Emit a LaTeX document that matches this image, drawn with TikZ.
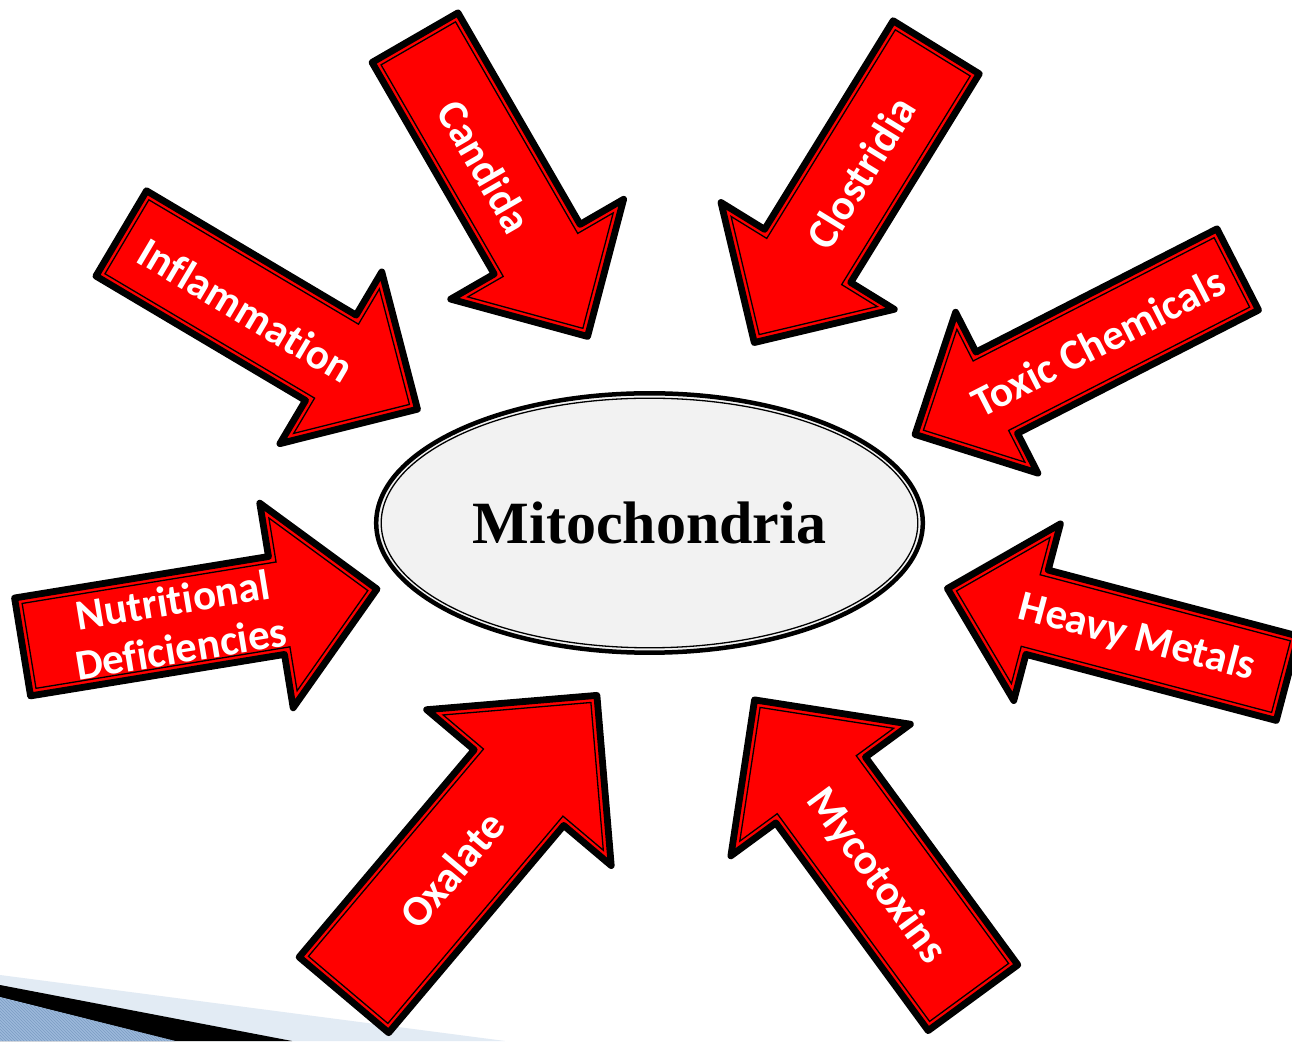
\documentclass[tikz,border=0pt]{standalone}
\usepackage{fontspec}
\setmainfont{Carlito}[Ligatures={NoCommon,NoContextual}]
\newfontfamily\mitofont{Liberation Serif}
\usetikzlibrary{shapes.geometric,patterns}
\definecolor{arrred}{HTML}{FF0000}
\definecolor{ellfill}{HTML}{F2F2F2}
\definecolor{bandlight}{HTML}{E2EBF4}
\definecolor{bandblue}{HTML}{9CB9DA}
\definecolor{bandline}{HTML}{7C9CC4}
\newcommand\nolig{\kern0pt\relax}
\tikzset{
  arrowouter/.style={draw=black, fill=arrred, line width=6.8pt, line join=round},
  arrowinner/.style={draw=black, line width=1.3pt, line join=miter},
  lbl/.style={text=white, font=\fontsize{43}{49}\selectfont\bfseries, inner sep=0pt, align=center},
}
% #1,#2 tail middle (image px), #3,#4 tip (image px), #5 shaft width, #6 head width, #7 head length
\newcommand\RArrow[7]{%
  \pgfmathsetmacro\rAx{#1}%
  \pgfmathsetmacro\rAy{1041-#2}%
  \pgfmathsetmacro\rDx{#3-#1}%
  \pgfmathsetmacro\rDy{#2-#4}%
  \pgfmathsetmacro\rAng{atan2(\rDy,\rDx)}%
  \pgfmathsetmacro\rLen{veclen(\rDx,\rDy)}%
  \pgfmathsetmacro\rSh{#5/2}%
  \pgfmathsetmacro\rHh{#6/2}%
  \pgfmathsetmacro\rHl{#7}%
  \pgfmathsetmacro\rAl{atan(\rHh/\rHl)}%
  \pgfmathsetmacro\oA{3.4}%
  \pgfmathsetmacro\oT{\rLen-3.4/sin(\rAl)}%
  \pgfmathsetmacro\oB{\rLen-\rHl+3.4}%
  \pgfmathsetmacro\oS{\rSh-3.4}%
  \pgfmathsetmacro\oH{\rHh*(\rHl-3.4)/\rHl-3.4/cos(\rAl)}%
  \pgfmathsetmacro\iA{10}%
  \pgfmathsetmacro\iT{\rLen-10/sin(\rAl)}%
  \pgfmathsetmacro\iB{\rLen-\rHl+10}%
  \pgfmathsetmacro\iS{\rSh-10}%
  \pgfmathsetmacro\iH{\rHh*(\rHl-10)/\rHl-10/cos(\rAl)}%
  \begin{scope}[shift={(\rAx,\rAy)},rotate=\rAng]
    \draw[arrowouter] (\oA,-\oS) -- (\oB,-\oS) -- (\oB,-\oH) -- (\oT,0) -- (\oB,\oH) -- (\oB,\oS) -- (\oA,\oS) -- cycle;
    \draw[arrowinner] (\iA,-\iS) -- (\iB,-\iS) -- (\iB,-\iH) -- (\iT,0) -- (\iB,\iH) -- (\iB,\iS) -- (\iA,\iS) -- cycle;
  \end{scope}}
\begin{document}
\begin{tikzpicture}[x=1pt,y=1pt]
\useasboundingbox (0,0) rectangle (1292,1041);
\clip (0,0) rectangle (1292,1041);
\fill[white] (0,0) rectangle (1292,1041);
% bottom-left decorative swoosh
\fill[bandlight] (0,66) -- (505,0) -- (0,0) -- cycle;
\fill[black] (0,56) -- (292,0) -- (0,0) -- cycle;
\fill[bandblue] (0,44) -- (175,0) -- (0,0) -- cycle;
\fill[pattern=north west lines, pattern color=bandline] (0,44) -- (175,0) -- (0,0) -- cycle;
% arrows
\RArrow{413.3}{34.7}{590}{340.7}{106}{216}{109}
\RArrow{938}{44.4}{751.7}{346.7}{108}{220}{110}
\RArrow{118.3}{231.7}{421.7}{411.7}{106}{216}{109}
\RArrow{1240.8}{267.9}{910.7}{436.7}{98}{197}{100}
\RArrow{1290.7}{679.2}{942.7}{587.3}{94}{199}{101}
\RArrow{19.2}{647.5}{381.7}{588.3}{106}{224}{110}
\RArrow{341.7}{997.5}{600}{691.7}{124}{258}{129}
\RArrow{975}{1000.5}{751.7}{696}{118}{239}{120}
% labels
\node[lbl, rotate=-60] (candida) at (485,874) {Candida};
\node[lbl, rotate=58.4] (clostridia) at (861,868) {Clostridia};
\node[lbl, rotate=-30.7] (inflam) at (246,731) {Inf\nolig lammat\nolig ion};
\node[lbl, rotate=27.1] (toxic) at (1098,699) {Toxic Chemicals};
\node[lbl, rotate=-14.8] (heavy) at (1137,403) {Heavy Metals};
\node[lbl, rotate=9.3] (nutri) at (177,417) {Nutrit\nolig ional\\Def\nolig icienc\nolig ies};
\node[lbl, rotate=49.8] (oxalate) at (452,171) {Oxalate};
\node[lbl, rotate=-53.7] (myco) at (876,165) {Mycotoxins};
% central ellipse
\node[ellipse, draw=black, line width=4.5pt, fill=ellfill, minimum width=546.6pt, minimum height=259.4pt, inner sep=0pt,
      font=\mitofont\fontsize{60}{66}\selectfont\bfseries] (mito) at (649.5,518) {Mitochondria};
\draw[line width=1.3pt] (mito.center) ellipse [x radius=268.3, y radius=124.8];
\end{tikzpicture}
\end{document}
